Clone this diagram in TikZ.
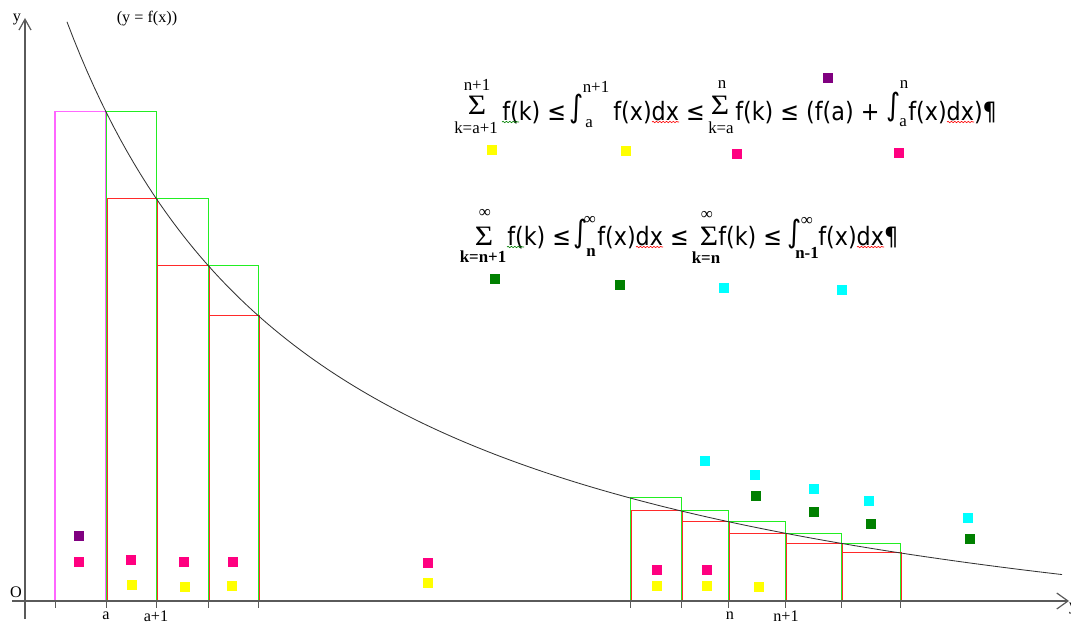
\documentclass[tikz,border=0pt]{standalone}
\usepackage{fontspec}
\usetikzlibrary{arrows.meta,decorations.pathmorphing}

\setmainfont{Liberation Serif}
\newfontfamily\eqfont[FakeStretch=0.88]{DejaVu Sans}

\definecolor{mkyellow}{HTML}{FFFF00}
\definecolor{mkpink}{HTML}{FF0080}
\definecolor{mkpurple}{HTML}{800080}
\definecolor{mkgreen}{HTML}{008000}
\definecolor{mkcyan}{HTML}{00FFFF}
\definecolor{boxviolet}{HTML}{FF66FF}
\definecolor{boxgreen}{HTML}{22EE22}
\definecolor{boxred}{HTML}{FF2A2A}
\definecolor{axisgray}{HTML}{5A5A5A}

\begin{document}
\begin{tikzpicture}[
  x=0.025cm, y=-0.025cm,
  declare function={fy(\t)=721.2-1845.3/(0.01*\t+1.969);},
  axis/.style={draw=axisgray, line width=0.85pt},
  tick/.style={draw=axisgray, line width=0.7pt},
  curve/.style={draw=black!80, line width=0.6pt},
  upbox/.style={draw=boxgreen, line width=0.65pt},
  lowbox/.style={draw=boxred, line width=0.65pt},
  leftbox/.style={draw=boxviolet, line width=0.75pt},
  sq/.style={minimum size=0.25cm, inner sep=0pt},
  axlbl/.style={font=\fontsize{11.5}{12}\selectfont, inner sep=0pt},
  eqtext/.style={font=\eqfont\fontsize{18}{20}\selectfont, inner sep=0pt, anchor=base west},
  sumop/.style={font=\fontsize{20}{20}\selectfont, inner sep=0pt, xscale=1.12, transform shape},
  intop/.style={font=\eqfont\fontsize{22}{22}\selectfont, inner sep=0pt},
  lim/.style={font=\fontsize{12}{12}\selectfont, inner sep=0pt},
  limbf/.style={font=\bfseries\fontsize{12}{12}\selectfont, inner sep=0pt},
  wave/.style={decorate, decoration={snake, amplitude=0.45pt, segment length=2.4pt},
    line width=0.45pt},
]

\useasboundingbox (0,0) rectangle (1071,624);

% ── Rectangles under and over the curve ─────────────────────────────
\draw[leftbox] (55,601) rectangle (106,{fy(106)});
\foreach \a/\b in {106/156, 156/208, 208/258,
    630/681, 681/728, 728/785, 785/841, 841/900}{
  \draw[upbox] (\a,601) rectangle (\b,{fy(\a)});
  \draw[lowbox] (\a+1,601) rectangle (\b+1,{fy(\b)});
}

% ── Curve y = f(x) ──────────────────────────────────────────────────
\draw[curve] plot[domain=67:1062, samples=150] (\x,{fy(\x)});

% ── Axes ────────────────────────────────────────────────────────────
\coordinate (xfrom) at (12,601);
\coordinate (xto) at (1069,601);
\coordinate (yfrom) at (25,619);
\coordinate (yto) at (25,18);
\draw[axis, -{Straight Barb[length=0.28cm, width=0.4cm]}] (xfrom) -- (xto);
\draw[axis, -{Straight Barb[length=0.27cm, width=0.3cm]}] (yfrom) -- (yto);
\foreach \t in {55,106,156,208,258,630,681,728,785,841,900}
  \draw[tick] (\t,601) -- (\t,608);

\node[axlbl] (origin) at (16,592) {O};
\node[axlbl] (ylabel) at (17,20) {y};
\node[axlbl] (xlabel) at (1073,609) {y};
\node[axlbl] (fname) at (147,19) {(y = f(x))};
\node[axlbl] (ta) at (106,616) {a};
\node[axlbl] (ta1) at (156,616) {a+1};
\node[axlbl] (tn) at (730,616) {n};
\node[axlbl] (tn1) at (786,616) {n+1};

% ── Colour marks ────────────────────────────────────────────────────
\foreach \px/\py [count=\i] in {492/150, 626/151, 132/585, 185/587, 232/586,
    428/583, 657/586, 707/586, 759/587}
  \node[sq, fill=mkyellow] (yel\i) at (\px,\py) {};
\foreach \px/\py [count=\i] in {737/154, 899/153, 79/562, 131/560, 184/562,
    233/562, 428/563, 657/570, 707/570}
  \node[sq, fill=mkpink] (pnk\i) at (\px,\py) {};
\foreach \px/\py [count=\i] in {828/78, 79/536}
  \node[sq, fill=mkpurple] (prp\i) at (\px,\py) {};
\foreach \px/\py [count=\i] in {495/279, 620/285, 756/496, 814/512, 871/524, 970/539}
  \node[sq, fill=mkgreen] (grn\i) at (\px,\py) {};
\foreach \px/\py [count=\i] in {724/288, 842/290, 705/461, 755/475, 814/489,
    869/501, 968/518}
  \node[sq, fill=mkcyan] (cyn\i) at (\px,\py) {};

% ── First inequality ────────────────────────────────────────────────
\node[sumop] (s1) at (477,105.5) {Σ};
\node[lim] (s1top) at (477,85) {n+1};
\node[lim] (s1bot) at (476,128) {k=a+1};
\node[eqtext] (e1a) at (502,120) {f(k) ≤};
\node[intop] (i1) at (577,109) {∫};
\node[lim] (i1top) at (596,87) {n+1};
\node[lim] (i1bot) at (589,124) {a};
\node[eqtext] (e1b) at (613,120) {f(x)dx ≤};
\node[sumop] (s2) at (720,105.5) {Σ};
\node[lim] (s2top) at (722,85) {n};
\node[lim] (s2bot) at (721,128) {k=a};
\node[eqtext] (e1c) at (735,120) {f(k) ≤ (f(a) +};
\node[intop] (i2) at (894,107) {∫};
\node[lim] (i2top) at (904,85) {n};
\node[lim] (i2bot) at (903,123) {a};
\node[eqtext] (e1d) at (908,120) {f(x)dx)¶};

% ── Second inequality ───────────────────────────────────────────────
\node[sumop] (s3) at (484,236) {Σ};
\node[lim] (s3top) at (485,213) {∞};
\node[limbf] (s3bot) at (483,257) {k=n+1};
\node[eqtext] (e2a) at (507,245) {f(k) ≤};
\node[intop] (i3) at (581,234) {∫};
\node[lim] (i3top) at (590,220) {∞};
\node[limbf] (i3bot) at (591,253) {n};
\node[eqtext] (e2b) at (597,245) {f(x)dx ≤};
\node[sumop] (s4) at (709,236) {Σ};
\node[lim] (s4top) at (707,215) {∞};
\node[limbf] (s4bot) at (706,258) {k=n};
\node[eqtext] (e2c) at (718,245) {f(k) ≤};
\node[intop] (i4) at (795,234) {∫};
\node[lim] (i4top) at (807,221) {∞};
\node[limbf] (i4bot) at (807,253) {n-1};
\node[eqtext] (e2d) at (818,245) {f(x)dx¶};

% spell-check squiggles
\draw[wave, mkgreen] ([shift={(0,2)}]e1a.base west) -- ++(17,0);
\draw[wave, red] ([shift={(39,2)}]e1b.base west) -- ++(27,0);
\draw[wave, red] ([shift={(39,2)}]e1d.base west) -- ++(27,0);
\draw[wave, mkgreen] ([shift={(0,2)}]e2a.base west) -- ++(17,0);
\draw[wave, red] ([shift={(39,2)}]e2b.base west) -- ++(27,0);
\draw[wave, red] ([shift={(39,2)}]e2d.base west) -- ++(27,0);

\end{tikzpicture}
\end{document}
